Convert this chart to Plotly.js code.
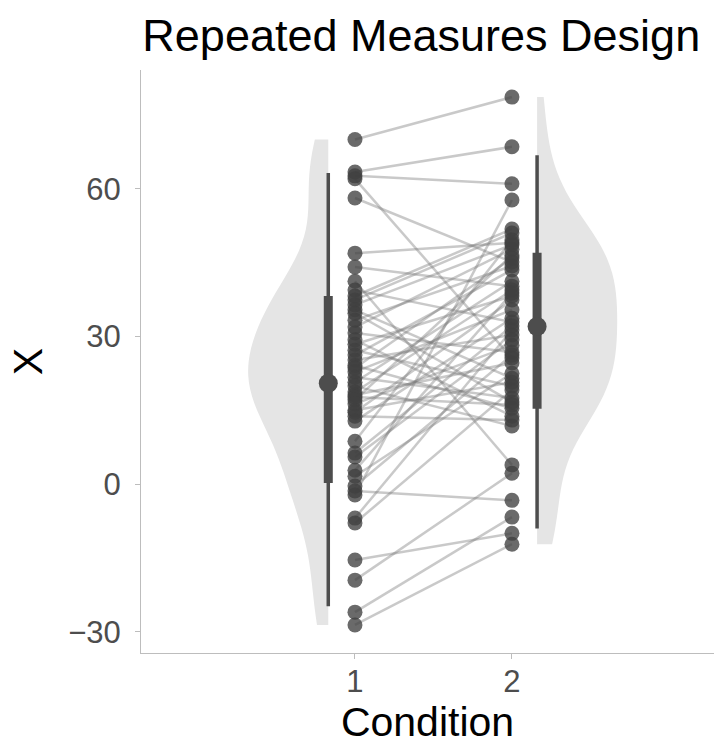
<!DOCTYPE html>
<html>
<head>
<meta charset="utf-8">
<script src="https://cdn.plot.ly/plotly-3.0.1.min.js"></script>
<style>html,body{margin:0;padding:0;background:#fff;}#chart{width:714px;height:749px;}</style>
</head>
<body>
<div id="chart"></div>
<script>
// Paired observations: condition 1 value and condition 2 value for each subject
var cond1 = [70.0, 63.4, 62.6, 62.0, 58.1, 46.9, 44.1, 41.2, 39.4, 38.2,
             37.4, 36.4, 35.4, 34.7, 33.3, 31.9, 30.7, 29.3, 28.4, 27.2,
             26.2, 25.2, 24.1, 23.6, 22.8, 21.7, 20.7, 19.9, 18.7, 18.1,
             17.7, 17.1, 16.3, 15.0, 14.6, 13.8, 12.8, 8.7, 6.3, 5.5,
             2.8, 1.6, -0.4, -1.4, -2.2, -6.9, -7.9, -15.4, -19.5, -26.0, -28.6];
var cond2 = [78.6, 68.5, 61.0, 25.6, 45.1, 49.0, 40.2, 3.9, 32.9, 51.8,
             51.0, 48.6, 21.5, 16.7, 44.3, 47.7, 26.8, 13.8, 38.2, 19.9,
             43.5, 30.3, 15.4, 45.9, 35.4, 17.5, 41.2, 11.8, 39.4, 24.6,
             16.1, 46.5, 28.2, 20.7, 37.4, 13.0, 33.7, 49.6, 32.1, 29.3,
             38.8, 22.5, 26.2, -3.3, 57.7, 31.3, 19.1, -10.0, 2.2, -6.7, -12.2];
var conditions = [1, 2];
// interval summaries (median, 66% interval, 95% interval)
var medians = [20.5, 32.0];
var inner66Low = [0.2, 15.3];
var inner66High = [38.2, 47.0];
var outer95Low = [-24.8, -9.0];
var outer95High = [63.2, 66.8];
var xTickVals = [1, 2];
var xTickText = ["1", "2"];
var yTickVals = [-30, 0, 30, 60];
var yTickText = ["\u221230", "0", "30", "60"];

var slabOffset = [-0.17, 0.16];

var traces = [];
// half violins (slabs)
traces.push({
  type: 'violin', y: cond1, x0: conditions[0] + slabOffset[0], side: 'negative',
  spanmode: 'hard', bandwidth: 8.5, width: 1.02, scalemode: 'width',
  fillcolor: '#e5e5e5', line: {color: '#e5e5e5', width: 0},
  points: false, box: {visible: false}, meanline: {visible: false},
  hoverinfo: 'skip', showlegend: false, opacity: 1
});
traces.push({
  type: 'violin', y: cond2, x0: conditions[1] + slabOffset[1], side: 'positive',
  spanmode: 'hard', bandwidth: 8.5, width: 1.02, scalemode: 'width',
  fillcolor: '#e5e5e5', line: {color: '#e5e5e5', width: 0},
  points: false, box: {visible: false}, meanline: {visible: false},
  hoverinfo: 'skip', showlegend: false, opacity: 1
});

// connecting lines
var lx = [], ly = [];
for (var i = 0; i < cond1.length; i++) {
  lx.push(conditions[0], conditions[1], null);
  ly.push(cond1[i], cond2[i], null);
}
traces.push({
  type: 'scatter', mode: 'lines', x: lx, y: ly,
  line: {color: 'rgba(120,120,120,0.40)', width: 2.5},
  hoverinfo: 'skip', showlegend: false
});

// points
var px = [], py = [];
for (var j = 0; j < cond1.length; j++) { px.push(conditions[0]); py.push(cond1[j]); }
for (var k = 0; k < cond2.length; k++) { px.push(conditions[1]); py.push(cond2[k]); }
traces.push({
  type: 'scatter', mode: 'markers', x: px, y: py,
  marker: {color: 'rgba(64,64,64,0.78)', size: 15, line: {width: 0}},
  showlegend: false
});

// intervals
for (var c = 0; c < 2; c++) {
  var xc = conditions[c] + slabOffset[c];
  traces.push({
    type: 'scatter', mode: 'lines', x: [xc, xc], y: [outer95Low[c], outer95High[c]],
    line: {color: '#4d4d4d', width: 3.5}, showlegend: false, hoverinfo: 'skip'
  });
  traces.push({
    type: 'scatter', mode: 'lines', x: [xc, xc], y: [inner66Low[c], inner66High[c]],
    line: {color: '#4d4d4d', width: 9}, showlegend: false, hoverinfo: 'skip'
  });
  traces.push({
    type: 'scatter', mode: 'markers', x: [xc], y: [medians[c]],
    marker: {color: '#4d4d4d', size: 19}, showlegend: false, hoverinfo: 'skip'
  });
}

var layout = {
  width: 714, height: 749,
  margin: {l: 141, r: 0, t: 70, b: 96},
  paper_bgcolor: '#ffffff', plot_bgcolor: '#ffffff',
  font: {family: 'Liberation Sans, Arial, sans-serif', color: '#000'},
  title: {text: 'Repeated Measures Design', x: 0.59, xanchor: 'center', y: 0.953, yanchor: 'middle',
          font: {size: 45, color: '#000'}},
  showlegend: false,
  violinmode: 'overlay',
  xaxis: {
    range: [-0.363, 3.287], tickvals: xTickVals, ticktext: xTickText,
    showgrid: false, zeroline: false, showline: true, linecolor: '#bdbdbd', linewidth: 1,
    ticks: 'outside', ticklen: 5, tickcolor: '#bdbdbd', tickwidth: 1,
    tickfont: {size: 31, color: '#4d4d4d'}, automargin: false, ticklabelstandoff: -4,
    title: {text: 'Condition', font: {size: 41, color: '#000'}, standoff: 9}
  },
  yaxis: {
    range: [-34.3, 84.1], tickvals: yTickVals, ticktext: yTickText,
    showgrid: false, zeroline: false, showline: true, linecolor: '#bdbdbd', linewidth: 1,
    ticks: 'outside', ticklen: 5, tickcolor: '#bdbdbd', tickwidth: 1,
    tickfont: {size: 31, color: '#4d4d4d'}, automargin: false, ticklabelstandoff: 8,
    title: {text: 'X', font: {size: 41, color: '#000'}, standoff: 12}
  }
};

Plotly.newPlot('chart', traces, layout, {staticPlot: true, displayModeBar: false});
</script>
</body>
</html>
